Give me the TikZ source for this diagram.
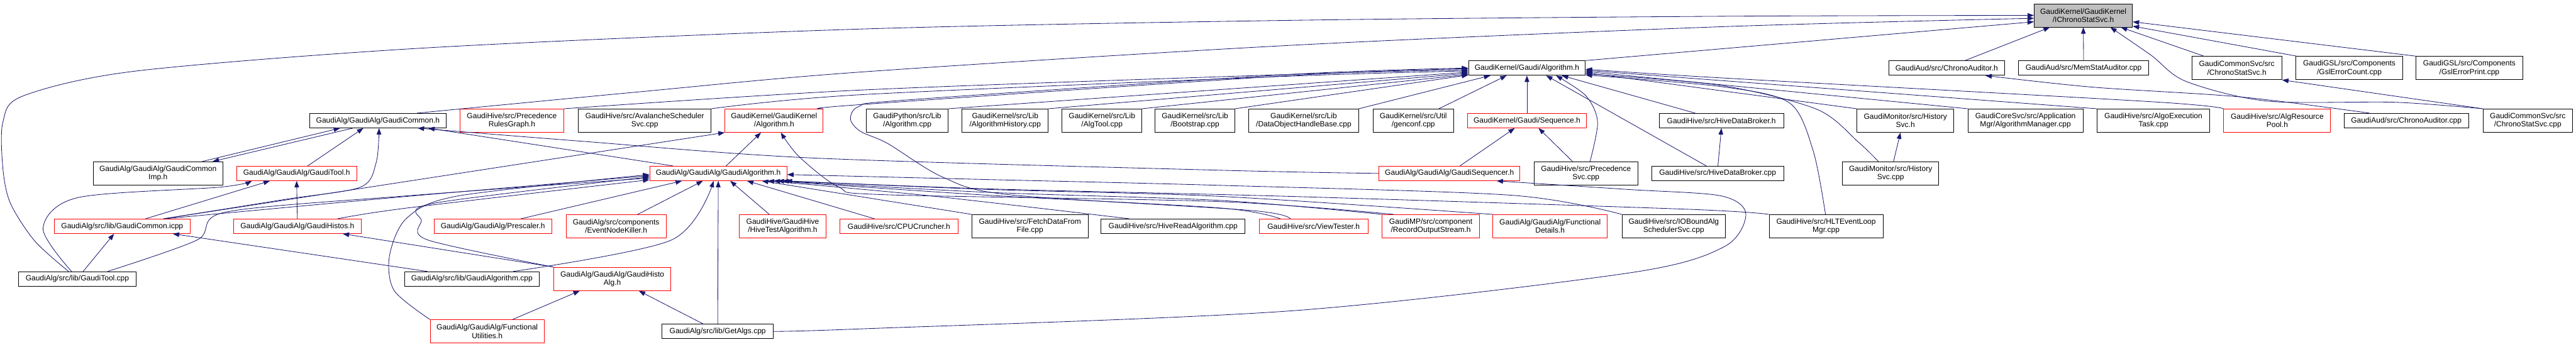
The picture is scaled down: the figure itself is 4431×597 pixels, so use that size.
\documentclass[tikz,border=0pt]{standalone}
\usepackage{fontspec}
\setmainfont{Liberation Sans}
\usetikzlibrary{arrows.meta}
\definecolor{eblue}{HTML}{191970}
\definecolor{rootgray}{HTML}{BFBFBF}
\begin{document}
\begin{tikzpicture}[x=1pt,y=-1pt,
  box/.style={draw, line width=1pt, inner sep=0pt, font=\fontsize{13}{14.5}\selectfont, align=center, text=black},
  nb/.style={box, draw=black, minimum height=24.8pt},
  nb2/.style={box, draw=black, minimum height=40pt},
  nr/.style={box, draw=red, minimum height=24.8pt},
  nr2/.style={box, draw=red, minimum height=40pt},
  ng/.style={box, draw=black, fill=rootgray, minimum height=40pt},
  e/.style={draw=eblue, line width=0.9pt, -{Triangle[length=11pt,width=8pt]}}
]
\useasboundingbox (0,0) rectangle (4431,597);
% rank 0
\node[ng, minimum width=169pt] (ics) at (3583.5,26.5) {GaudiKernel/GaudiKernel\\/IChronoStatSvc.h};
% rank 1
\node[nb, minimum width=201pt] (gaalg) at (2626.5,117.1) {GaudiKernel/Gaudi/Algorithm.h};
\node[nb, minimum width=199pt] (chronoh) at (3348.5,117.1) {GaudiAud/src/ChronoAuditor.h};
\node[nb, minimum width=224pt] (memstat) at (3584,117.1) {GaudiAud/src/MemStatAuditor.cpp};
\node[nb2, minimum width=155pt] (cssvch) at (3847.5,117.1) {GaudiCommonSvc/src\\/ChronoStatSvc.h};
\node[nb2, minimum width=184pt] (gslcount) at (4041,117.1) {GaudiGSL/src/Components\\/GslErrorCount.cpp};
\node[nb2, minimum width=183pt] (gslprint) at (4247.5,117.1) {GaudiGSL/src/Components\\/GslErrorPrint.cpp};
% rank 2
\node[nb, minimum width=234pt] (gcommon) at (650,207.6) {GaudiAlg/GaudiAlg/GaudiCommon.h};
\node[nr2, minimum width=179pt] (prg) at (880.5,207.6) {GaudiHive/src/Precedence\\RulesGraph.h};
\node[nb2, minimum width=228pt] (avalanche) at (1109,207.6) {GaudiHive/src/AvalancheScheduler\\Svc.cpp};
\node[nr2, minimum width=169pt] (gkalg) at (1331.5,207.6) {GaudiKernel/GaudiKernel\\/Algorithm.h};
\node[nb2, minimum width=141pt] (pyalg) at (1560.5,207.6) {GaudiPython/src/Lib\\/Algorithm.cpp};
\node[nb2, minimum width=148pt] (alghist) at (1729,207.6) {GaudiKernel/src/Lib\\/AlgorithmHistory.cpp};
\node[nb2, minimum width=137pt] (algtool) at (1895.5,207.6) {GaudiKernel/src/Lib\\/AlgTool.cpp};
\node[nb2, minimum width=137pt] (bootstrap) at (2055.5,207.6) {GaudiKernel/src/Lib\\/Bootstrap.cpp};
\node[nb2, minimum width=189pt] (dohb) at (2242.5,207.6) {GaudiKernel/src/Lib\\/DataObjectHandleBase.cpp};
\node[nb2, minimum width=138pt] (genconf) at (2431,207.6) {GaudiKernel/src/Util\\/genconf.cpp};
\node[nr, minimum width=205pt] (sequence) at (2626.5,207.6) {GaudiKernel/Gaudi/Sequence.h};
\node[nb, minimum width=214pt] (hdbh) at (2961,207.6) {GaudiHive/src/HiveDataBroker.h};
\node[nb2, minimum width=167pt] (histsvch) at (3277.5,207.6) {GaudiMonitor/src/History\\Svc.h};
\node[nb2, minimum width=198pt] (algmgr) at (3484,207.6) {GaudiCoreSvc/src/Application\\Mgr/AlgorithmManager.cpp};
\node[nb2, minimum width=194pt] (algoexec) at (3704,207.6) {GaudiHive/src/AlgoExecution\\Task.cpp};
\node[nr2, minimum width=184pt] (algpool) at (3917,207.6) {GaudiHive/src/AlgResource\\Pool.h};
\node[nb, minimum width=214pt] (chronocpp) at (4139,207.6) {GaudiAud/src/ChronoAuditor.cpp};
\node[nb2, minimum width=154pt] (cssvccpp) at (4348,207.6) {GaudiCommonSvc/src\\/ChronoStatSvc.cpp};
% rank 3
\node[nb2, minimum width=222.5pt] (gcimp) at (271.75,298.4) {GaudiAlg/GaudiAlg/GaudiCommon\\Imp.h};
\node[nr, minimum width=206.5pt] (gtoolh) at (510.25,298.4) {GaudiAlg/GaudiAlg/GaudiTool.h};
\node[nr, minimum width=236pt] (galgh) at (1235.5,298.4) {GaudiAlg/GaudiAlg/GaudiAlgorithm.h};
\node[nr, minimum width=242.5pt] (gseq) at (2493.25,298.4) {GaudiAlg/GaudiAlg/GaudiSequencer.h};
\node[nb2, minimum width=178pt] (precsvc) at (2728,298.4) {GaudiHive/src/Precedence\\Svc.cpp};
\node[nb, minimum width=227pt] (hdbcpp) at (2954.5,298.4) {GaudiHive/src/HiveDataBroker.cpp};
\node[nb2, minimum width=166pt] (histsvccpp) at (3252,298.4) {GaudiMonitor/src/History\\Svc.cpp};
% rank 4
\node[nr, minimum width=233.6pt] (icpp) at (210.2,389.4) {GaudiAlg/src/lib/GaudiCommon.icpp};
\node[nr, minimum width=219pt] (histosh) at (511.5,389.4) {GaudiAlg/GaudiAlg/GaudiHistos.h};
\node[nr, minimum width=202.4pt] (prescaler) at (847.8,389.4) {GaudiAlg/GaudiAlg/Prescaler.h};
\node[nr2, minimum width=172.4pt] (enk) at (1059.8,389.4) {GaudiAlg/src/components\\/EventNodeKiller.h};
\node[nr2, minimum width=148.5pt] (hivetest) at (1346.25,389.4) {GaudiHive/GaudiHive\\/HiveTestAlgorithm.h};
\node[nr, minimum width=203.4pt] (cpu) at (1546.3,389.4) {GaudiHive/src/CPUCruncher.h};
\node[nb2, minimum width=200pt] (fetch) at (1771.65,389.4) {GaudiHive/src/FetchDataFrom\\File.cpp};
\node[nb, minimum width=247.6pt] (hiveread) at (2017.8,389.4) {GaudiHive/src/HiveReadAlgorithm.cpp};
\node[nr, minimum width=187pt] (viewtester) at (2259.5,389.4) {GaudiHive/src/ViewTester.h};
\node[nr2, minimum width=167pt] (ros) at (2461.15,389.4) {GaudiMP/src/component\\/RecordOutputStream.h};
\node[nr2, minimum width=196.6pt] (fdetails) at (2666.3,389.4) {GaudiAlg/GaudiAlg/Functional\\Details.h};
\node[nb2, minimum width=178pt] (iobound) at (2879,389.4) {GaudiHive/src/IOBoundAlg\\SchedulerSvc.cpp};
\node[nb2, minimum width=196pt] (hlt) at (3141,389.4) {GaudiHive/src/HLTEventLoop\\Mgr.cpp};
% rank 5
\node[nb, minimum width=203pt] (gtoolcpp) at (133,480) {GaudiAlg/src/lib/GaudiTool.cpp};
\node[nb, minimum width=232.2pt] (galgcpp) at (811.7,480) {GaudiAlg/src/lib/GaudiAlgorithm.cpp};
\node[nr2, minimum width=201.6pt] (histoalg) at (1053.2,480) {GaudiAlg/GaudiAlg/GaudiHisto\\Alg.h};
% rank 6
\node[nr2, minimum width=196pt] (futil) at (838,570.3) {GaudiAlg/GaudiAlg/Functional\\Utilities.h};
\node[nb, minimum width=191pt] (getalgs) at (1234.5,570.3) {GaudiAlg/src/lib/GetAlgs.cpp};

% ---- edges into IChronoStatSvc.h
\draw[e] plot[smooth,tension=0.5] coordinates {([xshift=-15pt]gtoolcpp.north) (60,415) (18,350) (5,290) (5,210) (40,165) (236,122) (740,82) (1480,50) (2220,35) (2960,28) (ics.west)};
\draw[e] plot[smooth,tension=0.5] coordinates {([xshift=67pt]gcommon.north) (1100,158) (1480,124) (2220,78) (2960,46) ([yshift=-5pt]ics.west)};
\draw[e] (gaalg.north east) -- ([yshift=-11pt]ics.west);
\draw[e] ([xshift=31.5pt]chronoh.north) -- ([xshift=-57.5pt]ics.south);
\draw[e] (memstat.north) -- (ics.south);
\draw[e] ([xshift=-56.5pt]cssvch.north) -- ([xshift=64.5pt]ics.south);
\draw[e] ([xshift=2pt]gslcount.north west) -- ([yshift=-18.5pt]ics.east);
\draw[e] (gslprint.north west) -- ([yshift=-11pt]ics.east);
\draw[e] plot[smooth,tension=0.5] coordinates {(cssvccpp.north west) (4120,176) (3900,174) (3760,140) (3700,95) ([xshift=46.5pt]ics.south)};
\draw[e] plot[smooth,tension=0.5] coordinates {([xshift=-63pt]chronocpp.north) (3856,167) (3600,150) ([xshift=66.5pt]chronoh.south)};
\draw[e] (cssvccpp.north west) -- (cssvch.south east);

% ---- edges into Gaudi/Algorithm.h
\draw[e] plot[smooth,tension=0.5] coordinates {(prg.north east) (1480,155) (2220,128) ([yshift=-3pt]gaalg.west)};
\draw[e] plot[smooth,tension=0.5] coordinates {(avalanche.north east) (1480,163) (2220,131) ([yshift=-5pt]gaalg.west)};
\draw[e] plot[smooth,tension=0.5] coordinates {(gkalg.north east) (1480,180) (2220,130) ([yshift=-1pt]gaalg.west)};
\draw[e] (pyalg.north east) -- ([yshift=-7pt]gaalg.west);
\draw[e] (alghist.north east) -- ([yshift=-9pt]gaalg.west);
\draw[e] (algtool.north east) -- ([yshift=-11pt]gaalg.west);
\draw[e] (bootstrap.north east) -- ([yshift=-12pt]gaalg.west);
\draw[e] (dohb.north east) -- ([xshift=38pt]gaalg.south west);
\draw[e] ([xshift=44pt]genconf.north) -- ([xshift=66pt]gaalg.south west);
\draw[e] (sequence.north) -- (gaalg.south);
\draw[e] ([xshift=-45pt]hdbh.north) -- ([xshift=60pt]gaalg.south);
\draw[e] ([xshift=-19.5pt]hdbcpp.north) -- ([xshift=33pt]gaalg.south);
\draw[e] ([xshift=0.5pt]hdbcpp.north) -- (hdbh.south);
\draw[e] plot[smooth,tension=0.5] coordinates {([xshift=7pt]precsvc.north) (2748,210) (2728,165) ([xshift=50pt]gaalg.south)};
\draw[e] ([xshift=-23pt]precsvc.north) -- ([xshift=20pt]sequence.south);
\draw[e] ([xshift=18pt]gseq.north) -- ([xshift=-21pt]sequence.south);
\draw[e] (histsvch.north west) -- ([yshift=-8pt]gaalg.east);
\draw[e] plot[smooth,tension=0.5] coordinates {([xshift=-21pt]histsvccpp.north) (3196,244) (3125,188) (2960,147) ([yshift=-10pt]gaalg.east)};
\draw[e] ([xshift=5pt]histsvccpp.north) -- ([xshift=-8.5pt]histsvch.south);
\draw[e] (algmgr.north west) -- ([yshift=-6pt]gaalg.east);
\draw[e] (algoexec.north west) -- ([yshift=-4pt]gaalg.east);
\draw[e] plot[smooth,tension=0.5] coordinates {(algpool.north west) (3700,175) (2960,134) ([yshift=-2pt]gaalg.east)};
\draw[e] plot[smooth,tension=0.5] coordinates {([xshift=-1pt]hlt.north) (3119,260) (3078,177) (2960,149) ([yshift=-12pt]gaalg.east)};
\draw[e] plot[smooth,tension=0.5] coordinates {([xshift=-40pt]viewtester.north) (2150,362) (1735,335) (1622,305) (1527,247) (1480,226) (1463,205) (1478,183) (1560,172) (2220,128) (gaalg.west)};

% ---- edges into GaudiCommon.h / GaudiKernel Algorithm.h
\draw[e] ([xshift=13.5pt]galgh.north) -- ([xshift=-22.5pt]gkalg.south);
\draw[e] ([xshift=-78pt]galgh.north) -- ([xshift=-31pt]gcommon.south east);
\draw[e] plot[smooth,tension=0.5] coordinates {(gseq.west) (2100,293) (1400,272) (1000,243) ([xshift=-49pt]gcommon.south east)};
\draw[e] ([xshift=19pt]gtoolh.north) -- ([xshift=-25pt]gcommon.south);
\draw[e] ([xshift=76pt]gcimp.north) -- ([xshift=-65pt]gcommon.south);
\draw[e] ([xshift=-43pt]gcommon.south) -- ([xshift=94pt]gcimp.north);
\draw[e] plot[smooth,tension=0.5] coordinates {([xshift=71pt]icpp.north) (491,343) (620,322) (647,280) ([xshift=2pt]gcommon.south)};
\draw[e] ([xshift=40pt]icpp.north) -- ([xshift=-46pt]gtoolh.south);
\draw[e] ([xshift=71pt]icpp.north) -- (gkalg.south west);
\draw[e] plot[smooth,tension=0.5] coordinates {([xshift=73pt]icpp.north) (700,338) ([yshift=-4pt]galgh.west)};
\draw[e] plot[smooth,tension=0.5] coordinates {([xshift=20pt]ros.north west) (2100,347) (1520,335) (1443,322) (1375,270) ([xshift=11.5pt]gkalg.south)};

% ---- GaudiTool.cpp, GaudiHistos etc.
\draw[e] ([xshift=10pt]gtoolcpp.north) -- ([xshift=-14pt]icpp.south);
\draw[e] plot[smooth,tension=0.5] coordinates {([xshift=-10pt]gtoolcpp.north) (74,393) (134,340) (379,322) ([xshift=-77pt]gtoolh.south)};
\draw[e] plot[smooth,tension=0.5] coordinates {([xshift=52pt]gtoolcpp.north) (339,413) (388,365) (700,337) ([yshift=-8pt]galgh.west)};
\draw[e] (histosh.north) -- (gtoolh.south);
\draw[e] plot[smooth,tension=0.5] coordinates {([xshift=69pt]histosh.north) (700,358) ([yshift=-11pt]galgh.west)};
\draw[e] ([xshift=40pt]galgcpp.north west) -- ([xshift=87pt]icpp.south);
\draw[e] plot[smooth,tension=0.5] coordinates {([xshift=71pt]galgcpp.north) (1155,413) ([xshift=-8pt]galgh.south)};
\draw[e] (histoalg.north west) -- ([xshift=78pt]histosh.south);
\draw[e] plot[smooth,tension=0.5] coordinates {(histoalg.north west) (736,413) (725,380) (745,350) ([yshift=-6pt]galgh.west)};
\draw[e] plot[smooth,tension=0.5] coordinates {(futil.north west) (678,500) (670,440) (700,375) (789,337) ([yshift=-2pt]galgh.west)};
\draw[e] ([xshift=43.6pt]futil.north) -- ([xshift=-56pt]histoalg.south);
\draw[e] ([xshift=-25pt]getalgs.north) -- ([xshift=45.7pt]histoalg.south);
\draw[e] (getalgs.north) -- (galgh.south);
\draw[e] plot[smooth,tension=0.5] coordinates {(getalgs.east) (1480,566) (2220,535) (2800,470) (2965,425) (3003,368) (2960,337) (2800,326) ([xshift=81pt]gseq.south)};

% ---- rank 4 into GaudiAlgorithm.h
\draw[e] ([xshift=48pt]prescaler.north) -- ([xshift=-62.5pt]galgh.south);
\draw[e] ([xshift=37pt]enk.north) -- ([xshift=-26.5pt]galgh.south);
\draw[e] ([xshift=-23pt]hivetest.north) -- ([xshift=20.5pt]galgh.south);
\draw[e] ([xshift=-42pt]cpu.north) -- ([xshift=49.5pt]galgh.south);
\draw[e] (fetch.north west) -- ([xshift=75pt]galgh.south);
\draw[e] plot[smooth,tension=0.5] coordinates {([xshift=-75pt]hiveread.north) (1600,337) ([xshift=85pt]galgh.south)};
\draw[e] plot[smooth,tension=0.5] coordinates {([xshift=-57pt]viewtester.north) (2100,358) (1700,336) ([xshift=95pt]galgh.south)};
\draw[e] plot[smooth,tension=0.5] coordinates {(ros.north west) (2100,345) (1700,331) ([xshift=102pt]galgh.south)};
\draw[e] plot[smooth,tension=0.5] coordinates {(fdetails.north west) (2100,338) (1700,326) ([xshift=110pt]galgh.south)};
\draw[e] plot[smooth,tension=0.5] coordinates {(iobound.north west) (2600,336) (2100,319) (1700,309) ([yshift=-2pt]galgh.east)};
\draw[e] plot[smooth,tension=0.5] coordinates {(hlt.north west) (2900,360) (2220,338) (1700,325) ([xshift=116pt]galgh.south)};
\end{tikzpicture}
\end{document}
